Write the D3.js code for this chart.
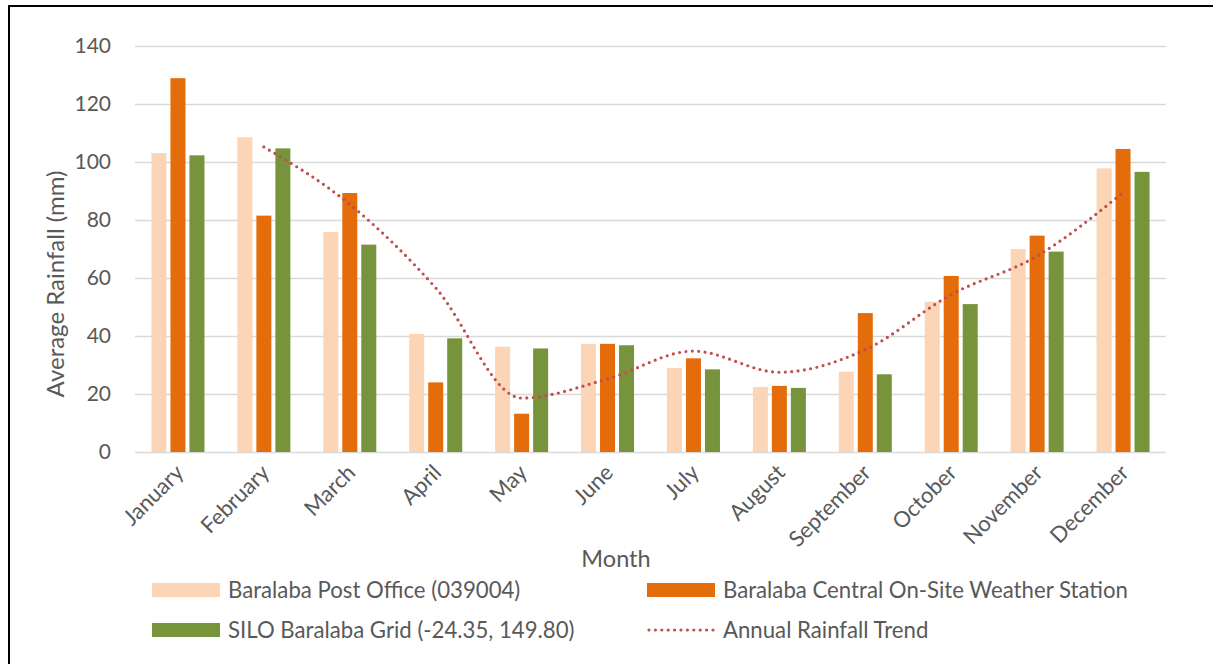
<!DOCTYPE html>
<html>
<head>
<meta charset="utf-8">
<script src="https://cdn.jsdelivr.net/npm/d3@7"></script>
<style>
  html, body { margin: 0; padding: 0; background: #fff; }
  svg { display: block; }
  text { font-family: Lato, "Open Sans", sans-serif; fill: #595959; }
</style>
</head>
<body>
<svg id="chart" width="1213" height="664"></svg>
<script>
const months = ["January","February","March","April","May","June","July","August","September","October","November","December"];
const postOffice = [103.1, 108.5, 75.9, 40.7, 36.3, 37.3, 29.0, 22.4, 27.7, 51.8, 70.0, 97.8];
const centralStation = [128.9, 81.5, 89.3, 24.0, 13.2, 37.3, 32.3, 22.8, 47.9, 60.7, 74.6, 104.5];
const siloGrid = [102.3, 104.7, 71.5, 39.2, 35.7, 36.8, 28.5, 22.1, 26.8, 51.0, 69.1, 96.6];
const trendMonths = ["February","March","April","May","June","July","August","September","October","November","December"];
const trendValues = [105.2, 85.4, 56.6, 18.6, 25.2, 34.8, 27.5, 35.3, 54.3, 67.6, 89.5];
const yTicks = [0, 20, 40, 60, 80, 100, 120, 140];
const seriesNames = ["Baralaba Post Office (039004)", "Baralaba Central On-Site Weather Station", "SILO Baralaba Grid (-24.35, 149.80)"];
const trendName = "Annual Rainfall Trend";
const colors = ["#FBD5B5", "#E46C0A", "#77933C"];
const trendColor = "#C0504D";

const svg = d3.select("#chart");

// outer frame
svg.append("rect").attr("x", 9).attr("y", 6).attr("width", 1230).attr("height", 680)
  .attr("fill", "none").attr("stroke", "#000").attr("stroke-width", 2);

const x = d3.scaleBand().domain(months).range([135, 1166]).paddingInner(0).paddingOuter(0);
const y = d3.scaleLinear().domain([0, 140]).range([452, 46]);
const keys = [0, 1, 2];
const xInner = d3.scaleBand().domain(keys).range([-28.5, 28.5]).paddingInner(0.21).paddingOuter(0.105);

// gridlines
const yAxis = d3.axisLeft(y).tickValues(yTicks).tickSize(-(1166 - 135)).tickPadding(24).tickFormat(d3.format("d"));
const gy = svg.append("g").attr("transform", "translate(135,0)").call(yAxis);
gy.select(".domain").remove();
gy.selectAll(".tick line").attr("stroke", "#D9D9D9").attr("stroke-width", 1.5);
gy.selectAll(".tick text").attr("font-size", 21).style("fill", "#595959").attr("x", -24);

// bars
const seriesData = [postOffice, centralStation, siloGrid];
const groups = svg.append("g");
seriesData.forEach((vals, si) => {
  groups.selectAll(null).data(vals).enter().append("rect")
    .attr("x", (d, i) => x(months[i]) + x.bandwidth() / 2 + xInner(si))
    .attr("y", d => y(d))
    .attr("width", xInner.bandwidth())
    .attr("height", d => y(0) - y(d))
    .attr("fill", colors[si]);
});

// trend line
const line = d3.line()
  .x((d, i) => x(trendMonths[i]) + x.bandwidth() / 2)
  .y(d => y(d))
  .curve(d3.curveMonotoneX);
svg.append("path").datum(trendValues).attr("d", line)
  .attr("fill", "none").attr("stroke", trendColor).attr("stroke-width", 3.2)
  .attr("stroke-linecap", "round").attr("stroke-dasharray", "0 6.4");

// x axis labels
const xAxis = d3.axisBottom(x).tickSize(0).tickPadding(0);
const gx = svg.append("g").attr("transform", "translate(0,452)").call(xAxis);
gx.select(".domain").remove();
gx.selectAll(".tick text")
  .attr("font-size", 22).style("fill", "#595959")
  .attr("text-anchor", "end")
  .attr("dy", 0).attr("y", 0)
  .attr("transform", "translate(7,22) rotate(-45)");

// axis titles
svg.append("text").attr("x", 616).attr("y", 567).attr("text-anchor", "middle")
  .attr("font-size", 23.5).text("Month");
svg.append("text").attr("transform", "translate(64,284) rotate(-90)").attr("text-anchor", "middle")
  .attr("font-size", 24).text("Average Rainfall (mm)");

// legend
const legendItems = [
  {name: seriesNames[0], color: colors[0], x: 152, y: 590, type: "rect"},
  {name: seriesNames[1], color: colors[1], x: 647, y: 590, type: "rect"},
  {name: seriesNames[2], color: colors[2], x: 152, y: 630, type: "rect"},
  {name: trendName, color: trendColor, x: 647, y: 630, type: "line"}
];
const lg = svg.append("g").selectAll("g").data(legendItems).enter().append("g")
  .attr("transform", d => `translate(${d.x},${d.y})`);
lg.filter(d => d.type === "rect").append("rect")
  .attr("x", 0).attr("y", -7).attr("width", 68).attr("height", 14).attr("fill", d => d.color);
lg.filter(d => d.type === "line").append("line")
  .attr("x1", 2).attr("x2", 68).attr("y1", 0).attr("y2", 0)
  .attr("stroke", d => d.color).attr("stroke-width", 3.2)
  .attr("stroke-linecap", "round").attr("stroke-dasharray", "0 6.4");
lg.append("text").attr("x", 76).attr("y", 0).attr("dy", "0.35em")
  .attr("font-size", 22.2).text(d => d.name);
</script>
</body>
</html>
